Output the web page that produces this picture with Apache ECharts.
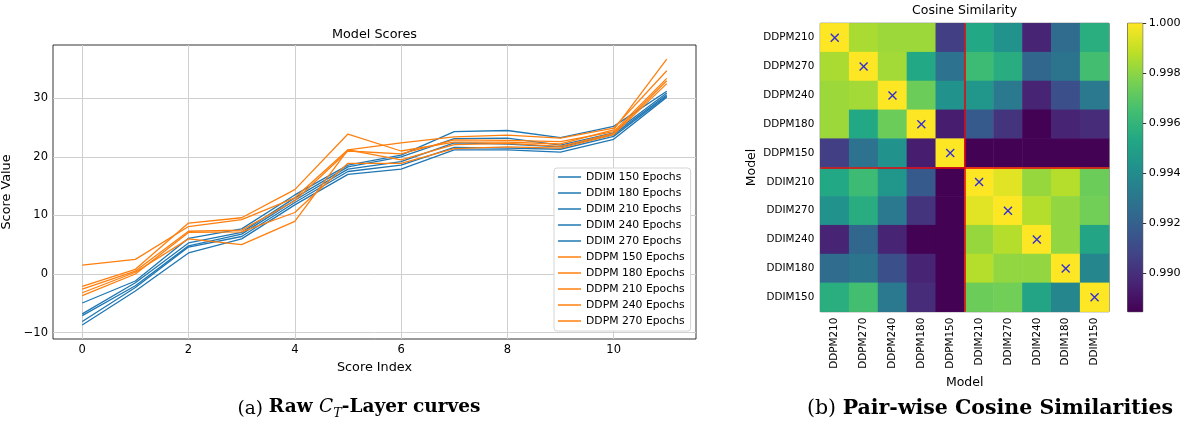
<!DOCTYPE html>
<html>
<head>
<meta charset="utf-8">
<script src="https://cdn.jsdelivr.net/npm/echarts@6/dist/echarts.min.js"></script>
<style>html,body{margin:0;padding:0;background:#fff}#c{width:1186px;height:423px}</style>
</head>
<body>
<div id="c"></div>
<script>
// ---------- Left panel data: Model Scores ----------
const SCORE_INDEX = [0,1,2,3,4,5,6,7,8,9,10,11];
const X_TICKS = [0,2,4,6,8,10];
const Y_TICKS = [-10,0,10,20,30];
const DDIM_150 = [-4.95,-1.2,6.1,7.7,13.5,18.6,20.3,24.3,24.5,23.3,25.2,31.2];
const DDIM_180 = [-6.8,-1.5,5.3,7.1,13.0,18.3,20.0,23.1,23.2,22.0,24.1,30.9];
const DDIM_210 = [-7.1,-2.0,4.8,6.8,12.6,17.9,19.2,22.4,22.2,21.7,23.8,30.6];
const DDIM_240 = [-8.1,-2.3,4.6,6.4,12.2,17.5,18.6,21.6,21.5,21.3,23.5,30.4];
const DDIM_270 = [-8.7,-2.9,3.6,6.0,11.8,17.0,17.9,21.2,21.2,20.8,23.0,30.2];
const DDPM_150 = [-2.1,0.8,8.7,9.6,14.4,23.9,21.0,22.5,22.5,22.2,24.6,36.7];
const DDPM_180 = [1.5,2.5,8.1,9.3,13.0,21.2,22.4,23.4,23.7,23.2,24.9,34.7];
const DDPM_210 = [-2.6,0.5,7.3,7.5,12.5,21.0,20.5,22.9,22.8,22.6,24.3,33.4];
const DDPM_240 = [-3.2,0.3,6.0,5.0,9.0,21.2,19.5,22.1,22.3,21.8,24.0,33.0];
const DDPM_270 = [-3.7,0.0,7.1,7.2,10.5,18.9,18.9,21.4,21.7,21.5,23.8,32.5];
const SERIES_NAMES = ['DDIM 150 Epochs','DDIM 180 Epochs','DDIM 210 Epochs','DDIM 240 Epochs','DDIM 270 Epochs',
  'DDPM 150 Epochs','DDPM 180 Epochs','DDPM 210 Epochs','DDPM 240 Epochs','DDPM 270 Epochs'];
const SERIES_VALUES = [DDIM_150,DDIM_180,DDIM_210,DDIM_240,DDIM_270,DDPM_150,DDPM_180,DDPM_210,DDPM_240,DDPM_270];

// ---------- Right panel data: Cosine Similarity ----------
const MODELS = ['DDPM210','DDPM270','DDPM240','DDPM180','DDPM150','DDIM210','DDIM270','DDIM240','DDIM180','DDIM150'];
const SIM_DDPM210 = [1.0000,0.9985,0.9983,0.9983,0.9906,0.9954,0.9943,0.9896,0.9925,0.9957];
const SIM_DDPM270 = [0.9985,1.0000,0.9984,0.9954,0.9928,0.9963,0.9956,0.9923,0.9929,0.9965];
const SIM_DDPM240 = [0.9983,0.9984,1.0000,0.9974,0.9943,0.9945,0.9931,0.9896,0.9913,0.9931];
const SIM_DDPM180 = [0.9983,0.9954,0.9974,1.0000,0.9894,0.9917,0.9902,0.9885,0.9896,0.9899];
const SIM_DDPM150 = [0.9906,0.9928,0.9943,0.9894,1.0000,0.9885,0.9885,0.9885,0.9885,0.9885];
const SIM_DDIM210 = [0.9954,0.9963,0.9945,0.9917,0.9885,1.0000,0.9995,0.9982,0.9987,0.9974];
const SIM_DDIM270 = [0.9943,0.9956,0.9931,0.9902,0.9885,0.9995,1.0000,0.9987,0.9981,0.9975];
const SIM_DDIM240 = [0.9896,0.9923,0.9896,0.9885,0.9885,0.9982,0.9987,1.0000,0.9981,0.9952];
const SIM_DDIM180 = [0.9925,0.9929,0.9913,0.9896,0.9885,0.9987,0.9981,0.9981,1.0000,0.9937];
const SIM_DDIM150 = [0.9957,0.9965,0.9931,0.9899,0.9885,0.9974,0.9975,0.9952,0.9937,1.0000];
const SIMILARITY = [SIM_DDPM210,SIM_DDPM270,SIM_DDPM240,SIM_DDPM180,SIM_DDPM150,SIM_DDIM210,SIM_DDIM270,SIM_DDIM240,SIM_DDIM180,SIM_DDIM150];
const CB_MIN = 0.98846, CB_MAX = 1.0;
const CB_TICKS = [0.990,0.992,0.994,0.996,0.998,1.000];

// ---------- Styling ----------
const FONT = 'DejaVu Sans';
const BLUE = '#1f77b4', ORANGE = '#ff7f0e';
const VIRIDIS = ['#440154','#482475','#414487','#355f8d','#2a788e','#21918c','#22a884','#44bf70','#7ad151','#bddf26','#fde725'];
const DDPM_COUNT = MODELS.filter(m => m.startsWith('DDPM')).length;
const GROUP_SPLIT = DDPM_COUNT - 0.5;

const chart = echarts.init(document.getElementById('c'), null, {renderer: 'canvas'});

const lineSeries = SERIES_NAMES.map((name, k) => ({
  name, type: 'line', xAxisIndex: 0, yAxisIndex: 0,
  data: SCORE_INDEX.map((x, i) => [x, SERIES_VALUES[k][i]]),
  showSymbol: false, symbol: 'none', z: 3,
  lineStyle: {width: 1.3, color: name.startsWith('DDIM') ? BLUE : ORANGE},
  itemStyle: {color: name.startsWith('DDIM') ? BLUE : ORANGE},
  animation: false
}));

const tickStyle = {show: true, inside: false, length: 3.5, lineStyle: {color: '#000', width: 0.8}};
const minus = v => String(v).replace('-', '\u2212');
const gridBase = {show: true, borderColor: '#000', borderWidth: 0.8, backgroundColor: 'transparent', containLabel: false, outerBoundsMode: 'none'};
const SERIF = 'DejaVu Serif';

const option = {
  animation: false,
  textStyle: {fontFamily: FONT},
  title: [
    {text: 'Model Scores', left: 374.5, top: 35, textAlign: 'center', textVerticalAlign: 'middle', padding: 0,
     textStyle: {fontFamily: FONT, fontSize: 12.8, fontWeight: 'normal', color: '#000'}},
    {text: 'Cosine Similarity', left: 964.6, top: 11, textAlign: 'center', textVerticalAlign: 'middle', padding: 0,
     textStyle: {fontFamily: FONT, fontSize: 12.5, fontWeight: 'normal', color: '#000'}},
    {text: '(a) {b|Raw }{i|C}{s|T}{b|-Layer curves}', left: 359, top: 409, textAlign: 'center', textVerticalAlign: 'middle', padding: 0,
     textStyle: {fontFamily: SERIF, fontSize: 18.5, fontWeight: 'normal', color: '#000', lineHeight: 23,
       rich: {
         b: {fontFamily: SERIF, fontSize: 18.5, fontWeight: 'bold', lineHeight: 23, verticalAlign: 'top'},
         i: {fontFamily: SERIF, fontSize: 18.5, fontStyle: 'italic', lineHeight: 23, verticalAlign: 'top'},
         s: {fontFamily: SERIF, fontSize: 12.8, fontStyle: 'italic', lineHeight: 14, padding: [10,0,0,0], verticalAlign: 'top'}
       }}},
    {text: '(b) {b|Pair-wise Cosine Similarities}', left: 990, top: 409, textAlign: 'center', textVerticalAlign: 'middle', padding: 0,
     textStyle: {fontFamily: SERIF, fontSize: 20.5, fontWeight: 'normal', color: '#000', lineHeight: 24,
       rich: {b: {fontFamily: SERIF, fontSize: 20.5, fontWeight: 'bold', lineHeight: 24}}}}
  ],
  legend: {
    data: SERIES_NAMES, orient: 'vertical', left: 554, top: 168, z: 20,
    icon: 'rect', itemWidth: 23, itemHeight: 1.5, itemGap: 0,
    padding: [1, 6, 2, 4],
    backgroundColor: '#ffffff', borderColor: '#d5d5d5', borderWidth: 1, borderRadius: 3,
    textStyle: {fontFamily: FONT, fontSize: 10.8, color: '#000', lineHeight: 16},
    selectedMode: false
  },
  grid: [
    Object.assign({left: 53, top: 45, width: 643, height: 294}, gridBase),
    Object.assign({left: 820.3, top: 23.3, width: 288.7, height: 288.4}, gridBase),
    Object.assign({left: 1127.7, top: 23.3, width: 15, height: 288.4}, gridBase)
  ],
  xAxis: [
    {type: 'value', gridIndex: 0, min: -0.55, max: 11.55,
     axisLine: {show: false}, splitLine: {show: false},
     axisTick: Object.assign({customValues: X_TICKS}, tickStyle),
     axisLabel: {customValues: X_TICKS, margin: 5, fontFamily: FONT, fontSize: 11.5, color: '#000'},
     name: 'Score Index', nameLocation: 'middle', nameGap: 19.5,
     nameTextStyle: {fontFamily: FONT, fontSize: 12.8, color: '#000'}},
    {type: 'category', gridIndex: 1, data: MODELS, position: 'bottom',
     axisLine: {show: false}, splitLine: {show: false},
     axisTick: Object.assign({alignWithLabel: true}, tickStyle),
     axisLabel: {rotate: 90, margin: 6, fontFamily: FONT, fontSize: 10.4, color: '#000', interval: 0},
     name: 'Model', nameLocation: 'middle', nameGap: 61,
     nameTextStyle: {fontFamily: FONT, fontSize: 12.5, color: '#000'}},
    {type: 'value', gridIndex: 1, min: -0.5, max: MODELS.length - 0.5, position: 'top', show: false},
    {type: 'category', gridIndex: 2, data: ['cb'], show: false}
  ],
  yAxis: [
    {type: 'value', gridIndex: 0, min: -11.1, max: 39.1,
     axisLine: {show: false}, splitLine: {show: false},
     axisTick: Object.assign({customValues: Y_TICKS}, tickStyle),
     axisLabel: {customValues: Y_TICKS, margin: 5, fontFamily: FONT, fontSize: 11.5, color: '#000', formatter: minus},
     name: 'Score Value', nameLocation: 'middle', nameGap: 34, nameRotate: 90,
     nameTextStyle: {fontFamily: FONT, fontSize: 12.8, color: '#000'}},
    {type: 'category', gridIndex: 1, data: MODELS, inverse: true, position: 'left',
     axisLine: {show: false}, splitLine: {show: false},
     axisTick: Object.assign({alignWithLabel: true}, tickStyle),
     axisLabel: {margin: 6, fontFamily: FONT, fontSize: 10.4, color: '#000', interval: 0},
     name: 'Model', nameLocation: 'middle', nameGap: 62, nameRotate: 90,
     nameTextStyle: {fontFamily: FONT, fontSize: 12.5, color: '#000'}},
    {type: 'value', gridIndex: 1, min: -0.5, max: MODELS.length - 0.5, inverse: true, position: 'right', show: false},
    {type: 'value', gridIndex: 2, min: CB_MIN, max: CB_MAX, position: 'right',
     axisLine: {show: false}, splitLine: {show: false},
     axisTick: Object.assign({customValues: CB_TICKS}, tickStyle),
     axisLabel: {customValues: CB_TICKS, margin: 6, fontFamily: FONT, fontSize: 11.2, color: '#000', formatter: v => v.toFixed(3)}}
  ],
  visualMap: {
    type: 'continuous', show: false, seriesIndex: SERIES_NAMES.length + 1,
    min: CB_MIN, max: CB_MAX, dimension: 2, inRange: {color: VIRIDIS}
  },
  series: [
    // grid lines for the line chart, drawn on the axis tick values
    {type: 'line', name: '_grid', xAxisIndex: 0, yAxisIndex: 0, data: [], z: 1, silent: true,
     markLine: {z: 1, silent: true, symbol: ['none','none'], label: {show: false}, animation: false,
       lineStyle: {color: '#cfcfcf', width: 1, type: 'solid'},
       emphasis: {disabled: true},
       data: X_TICKS.map(v => ({xAxis: v})).concat(Y_TICKS.map(v => ({yAxis: v})))}},
    ...lineSeries,
    {type: 'heatmap', xAxisIndex: 1, yAxisIndex: 1, z: 2,
     data: SIMILARITY.flatMap((row, i) => row.map((v, j) => [j, i, v])),
     itemStyle: {borderWidth: 0}, emphasis: {disabled: true}, progressive: 0, silent: true},
    {type: 'scatter', xAxisIndex: 1, yAxisIndex: 1, z: 5, silent: true,
     data: MODELS.map(m => [m, m]),
     symbol: 'path://M0,0L10,10M10,0L0,10', symbolSize: 8,
     itemStyle: {color: 'transparent', borderColor: '#0000ff', borderWidth: 1.4}},
    {type: 'line', name: '_split', xAxisIndex: 2, yAxisIndex: 2, data: [], z: 6, silent: true,
     markLine: {z: 6, silent: true, symbol: ['none','none'], label: {show: false}, animation: false,
       lineStyle: {color: '#e8000b', width: 1.5, type: 'solid'}, emphasis: {disabled: true},
       data: [{xAxis: GROUP_SPLIT}, {yAxis: GROUP_SPLIT}]}},
    // colorbar
    {type: 'bar', xAxisIndex: 3, yAxisIndex: 3, stack: 'cb', data: [CB_MIN], barWidth: '100%', silent: true,
     itemStyle: {color: 'transparent'}},
    {type: 'bar', xAxisIndex: 3, yAxisIndex: 3, stack: 'cb', data: [CB_MAX - CB_MIN], barWidth: '100%', silent: true,
     itemStyle: {color: {type: 'linear', x: 0, y: 0, x2: 0, y2: 1,
       colorStops: VIRIDIS.slice().reverse().map((c, i) => ({offset: i / (VIRIDIS.length - 1), color: c}))}}}
  ]
};
chart.setOption(option);
</script>
</body>
</html>
